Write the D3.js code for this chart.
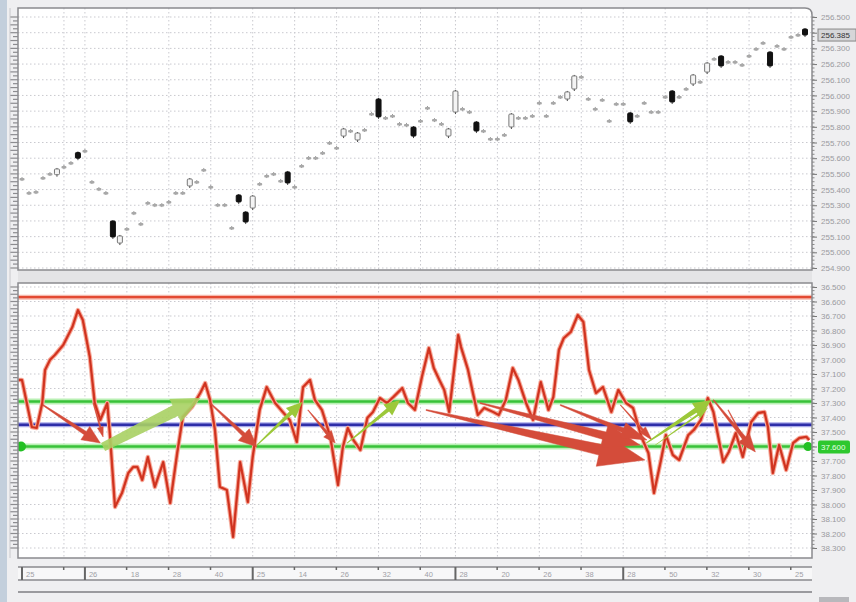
<!DOCTYPE html>
<html><head><meta charset="utf-8">
<script src="https://cdn.jsdelivr.net/npm/d3@7"></script>
<style>html,body{margin:0;padding:0;background:#efeff1;} svg{display:block}</style>
</head><body>
<svg id="c" width="856" height="602"></svg>
<script>
// ---------------- DATA ----------------
const opens = [255.467,255.378,255.384,255.474,255.499,255.495,255.544,255.569,255.630,255.646,
255.448,255.403,255.378,255.193,255.059,255.148,255.250,255.180,255.314,255.301,
255.301,255.321,255.378,255.378,255.423,255.448,255.525,255.416,255.301,255.301,
255.155,255.359,255.250,255.282,255.435,255.486,255.499,255.455,255.506,255.416,
255.550,255.601,255.601,255.633,255.697,255.665,255.741,255.773,255.716,255.780,
255.882,255.971,255.856,255.869,255.818,255.812,255.792,255.837,255.920,255.843,
255.818,255.741,255.894,255.914,255.894,255.824,255.773,255.722,255.722,255.748,
255.799,255.856,255.856,255.869,255.952,255.869,255.952,255.990,255.977,256.041,
256.118,255.977,255.914,255.971,255.837,255.945,255.945,255.882,255.869,255.952,
255.894,255.894,255.990,256.022,255.990,256.041,256.073,256.086,256.149,256.232,
256.245,256.213,256.213,256.194,256.251,256.296,256.334,256.270,256.315,256.296,
256.372,256.385,256.417];
const closes = [255.467,255.378,255.384,255.474,255.499,255.525,255.544,255.569,255.600,255.646,
255.448,255.403,255.378,255.098,255.098,255.148,255.250,255.180,255.314,255.301,
255.301,255.321,255.378,255.378,255.461,255.448,255.525,255.416,255.301,255.301,
255.155,255.321,255.193,255.352,255.435,255.486,255.499,255.455,255.442,255.416,
255.550,255.601,255.601,255.633,255.697,255.665,255.780,255.773,255.754,255.780,
255.882,255.863,255.856,255.869,255.818,255.812,255.741,255.837,255.920,255.843,
255.818,255.780,256.022,255.914,255.894,255.773,255.773,255.722,255.722,255.748,
255.875,255.856,255.856,255.869,255.952,255.869,255.952,255.990,256.016,256.118,
256.118,255.977,255.914,255.971,255.837,255.945,255.945,255.831,255.869,255.952,
255.894,255.894,255.990,255.958,255.990,256.041,256.124,256.086,256.200,256.232,
256.188,256.213,256.213,256.194,256.251,256.296,256.334,256.188,256.315,256.296,
256.372,256.385,256.385];
const priceTicks = [254.9,255.0,255.1,255.2,255.3,255.4,255.5,255.6,255.7,255.8,255.9,256.0,256.1,256.2,256.3,256.4,256.5];

const indIndex = [-0.5,0,1.4,2.1,2.9,3.3,4.0,4.7,5.9,7.2,8.0,8.7,9.7,10.4,11.2,12.2,12.6,13.3,14.3,15.2,
15.9,16.5,17.2,18.0,19.0,20.2,21.2,22.2,23.0,24.3,25.5,26.2,26.9,27.6,28.3,29.3,30.2,31.2,32.3,33.0,
34.0,35.0,36.2,37.3,38.3,39.3,40.2,41.2,41.9,42.9,44.1,45.2,45.9,46.6,47.4,48.4,49.4,50.2,51.2,52.2,
53.1,54.4,55.2,56.2,57.2,58.2,58.9,59.7,60.4,61.1,62.4,62.8,63.8,64.5,65.2,66.1,67.4,68.2,69.2,70.2,
71.0,72.1,73.1,74.2,75.3,76.0,76.8,77.5,78.5,79.5,80.3,81.1,82.1,83.1,84.3,85.3,86.4,87.4,88.6,89.6,
90.4,91.4,92.1,93.1,94.0,95.3,96.1,97.1,98.1,98.9,99.6,100.3,101.1,102.1,103.1,104.3,105.3,106.2,106.7,107.4,
108.3,109.3,110.3,111.2,112.2,112.6];
const indValue = [37.141,37.141,37.466,37.472,37.300,37.072,37.003,36.969,36.900,36.776,36.659,36.728,36.983,37.300,37.417,37.300,37.534,38.017,37.921,37.783,
37.741,37.741,37.831,37.672,37.879,37.707,37.990,37.645,37.397,37.328,37.231,37.162,37.279,37.486,37.879,37.900,38.224,37.707,37.983,37.672,
37.348,37.190,37.300,37.362,37.417,37.569,37.190,37.141,37.279,37.348,37.534,37.866,37.603,37.472,37.555,37.624,37.403,37.362,37.266,37.300,
37.259,37.197,37.300,37.348,37.121,36.921,37.059,37.141,37.210,37.362,36.831,36.914,37.072,37.231,37.383,37.334,37.362,37.383,37.279,37.059,
37.141,37.300,37.417,37.155,37.348,37.259,36.934,36.852,36.810,36.693,36.741,37.072,37.231,37.190,37.362,37.210,37.300,37.334,37.534,37.645,
37.921,37.693,37.521,37.659,37.693,37.521,37.486,37.417,37.266,37.362,37.534,37.707,37.638,37.507,37.672,37.431,37.369,37.362,37.466,37.783,
37.590,37.762,37.576,37.541,37.534,37.555];
const indTicks = [36.5,36.6,36.7,36.8,36.9,37.0,37.1,37.2,37.3,37.4,37.5,37.6,37.7,37.8,37.9,38.0,38.1,38.2,38.3];
const levelRed = 36.57, levelGreenHi = 37.29, levelBlue = 37.45, levelGreenLo = 37.60;

const timeTickIndex = [0,6,9,15,21,27,33,39,45,51,57,62,68,74,80,86,92,98,104,110];
const timeTickLabels = ["25","","26","18","28","40","25","14","26","32","40","28","20","26","38","28","50","32","30","25"];
const timeTickMajor = [1,0,1,0,0,0,1,0,0,0,0,1,0,0,0,1,0,0,0,0];

// annotation arrows: [fromIndex, fromValue, toIndex, toValue]
const redArrows = [[3.0,37.314,11.2,37.576],[10.2,37.300,11.6,37.534],[26.9,37.300,33.6,37.603],
[40.9,37.348,44.8,37.576],[57.8,37.348,89.1,37.693],[65.5,37.300,88.4,37.590],[77.0,37.314,89.4,37.555],
[85.6,37.314,90.1,37.555],[98.9,37.279,104.9,37.638],[101.0,37.348,103.9,37.610]];
const greenArrows = [[11.6,37.603,25.5,37.266],[33.6,37.590,40.1,37.293],[46.5,37.576,54.1,37.279],
[89.3,37.576,98.6,37.279],[90.6,37.590,98.1,37.334]];

// ---------------- DRAW ----------------
const svg = d3.select("#c");
const L = 18, R = 812, T1 = 8, B1 = 270, T2 = 283, B2 = 558;
const x = d3.scaleLinear().domain([0,112]).range([22,805]);
const yTop = d3.scaleLinear().domain([254.9,256.5]).range([268,17]);
const yBot = d3.scaleLinear().domain([36.5,38.3]).range([287,548]);
const FONT = "Liberation Sans, Arial, sans-serif";

// window chrome
svg.append("rect").attr("x",0).attr("y",0).attr("width",856).attr("height",602).attr("fill","#efeff1");
svg.append("rect").attr("x",0).attr("y",0).attr("width",7).attr("height",602).attr("fill","#c3cfdc");
svg.append("rect").attr("x",L).attr("y",B1).attr("width",R-L).attr("height",T2-B1).attr("fill","#e4e4e6");

const defs = svg.append("defs");
defs.append("clipPath").attr("id","cp1").append("rect").attr("x",L).attr("y",T1).attr("width",R-L).attr("height",B1-T1);
defs.append("clipPath").attr("id","cp2").append("rect").attr("x",L).attr("y",T2).attr("width",R-L).attr("height",B2-T2);

// panels
svg.append("path").attr("d",`M${L},${T1} H${R-7} Q${R},${T1} ${R},${T1+7} V${B1} H${L} Z`).attr("fill","#fff");
svg.append("rect").attr("x",L).attr("y",T2).attr("width",R-L).attr("height",B2-T2).attr("fill","#fff");

// gridlines
const g1 = svg.append("g").attr("clip-path","url(#cp1)");
const g2 = svg.append("g").attr("clip-path","url(#cp2)");
[[g1,yTop,priceTicks,T1,B1],[g2,yBot,indTicks,T2,B2]].forEach(([g,ys,ticks,t,b])=>{
  g.selectAll(".hg").data(ticks).enter().append("line").attr("x1",L).attr("x2",R)
   .attr("y1",d=>ys(d)).attr("y2",d=>ys(d)).attr("stroke","#c9c9cf").attr("stroke-width",1).attr("stroke-dasharray","1.5,2.5");
  g.selectAll(".vg").data(timeTickIndex.slice(1)).enter().append("line").attr("y1",t).attr("y2",b)
   .attr("x1",d=>x(d)).attr("x2",d=>x(d)).attr("stroke","#c9c9cf").attr("stroke-width",1).attr("stroke-dasharray","1.5,2.5");
});

// candles
const candles = g1.selectAll(".cd").data(closes.map((c,i)=>({i,o:opens[i],c}))).enter().append("g");
candles.append("line").attr("x1",d=>x(d.i)).attr("x2",d=>x(d.i))
  .attr("y1",d=>yTop(Math.max(d.o,d.c))-2).attr("y2",d=>yTop(Math.min(d.o,d.c))+2)
  .attr("stroke",d=>Math.abs(d.o-d.c)<0.001?"#9a9a9a":"#444").attr("stroke-width",1);
candles.append("rect").attr("x",d=>x(d.i)-2.5).attr("width",5)
  .attr("y",d=>Math.min(yTop(d.o),yTop(d.c))-1)
  .attr("height",d=>Math.max(2.5,Math.abs(yTop(d.o)-yTop(d.c))+1))
  .attr("rx",1)
  .attr("fill",d=>Math.abs(d.o-d.c)<0.001?"#a8a8a8":(d.c<d.o?"#111":"#f4f4f4"))
  .attr("stroke",d=>Math.abs(d.o-d.c)<0.001?"none":(d.c<d.o?"#111":"#777"))
  .attr("stroke-width",1);

// indicator levels
function level(v,halo,haloW,col,w){
  g2.append("line").attr("x1",L).attr("x2",R).attr("y1",yBot(v)).attr("y2",yBot(v)).attr("stroke",halo).attr("stroke-width",haloW);
  g2.append("line").attr("x1",L).attr("x2",R).attr("y1",yBot(v)).attr("y2",yBot(v)).attr("stroke",col).attr("stroke-width",w);
}
level(levelRed,"#f6b9ad",5,"#e34a33",2.2);
level(levelGreenHi,"#b9f0b4",6,"#38c238",2.6);
level(levelGreenLo,"#b9f0b4",6,"#38c238",2.6);
level(levelBlue,"#a9a9e8",5,"#2e2ea8",2.6);

// indicator line
const pts = indIndex.map((d,i)=>({i:d,v:indValue[i]}));
const ln = d3.line().x(d=>x(d.i)).y(d=>yBot(d.v));
g2.append("path").attr("d",ln(pts)).attr("fill","none").attr("stroke","#f4b0a2").attr("stroke-width",4.5).attr("stroke-linejoin","round");
g2.append("path").attr("d",ln(pts)).attr("fill","none").attr("stroke","#e03a24").attr("stroke-width",2.4).attr("stroke-linejoin","round");
g2.append("path").attr("d",ln(pts)).attr("fill","none").attr("stroke","#9c2a1c").attr("stroke-width",0.7).attr("stroke-linejoin","round").attr("opacity",0.6);

// green markers
g2.append("circle").attr("cx",L+3).attr("cy",yBot(levelGreenLo)).attr("r",5).attr("fill","#22c022");
g2.append("circle").attr("cx",R-4).attr("cy",yBot(levelGreenLo)).attr("r",4.5).attr("fill","#22c022");

// arrows
function arrowPts(x0,y0,x1,y1,tw,nw,hw,hl){
  const dx=x1-x0, dy=y1-y0, len=Math.hypot(dx,dy), ux=dx/len, uy=dy/len, nx=-uy, ny=ux;
  const bx=x1-ux*hl, by=y1-uy*hl;
  return [[x0+nx*tw/2,y0+ny*tw/2],[bx+nx*nw/2,by+ny*nw/2],[bx+nx*hw/2,by+ny*hw/2],[x1,y1],
          [bx-nx*hw/2,by-ny*hw/2],[bx-nx*nw/2,by-ny*nw/2],[x0-nx*tw/2,y0-ny*tw/2]];
}
const redSizes = [[1,4,16,18],[0.5,1.5,6,10],[1,4,16,18],[0.5,3,10,12],[1,11,34,46],[1,8,24,36],[1,5,16,26],[0.5,2,8,14],[1,4,14,18],[0.5,2,7,10]];
const greenSizes = [[9,12,26,28],[1,4,14,16],[1,4,14,16],[1,5,16,18],[0.5,2,8,12]];
const ag = svg.append("g").attr("clip-path","url(#cp2)");
redArrows.forEach((a,k)=>{
  const s=redSizes[k];
  ag.append("polygon").attr("points",arrowPts(x(a[0]),yBot(a[1]),x(a[2]),yBot(a[3]),s[0],s[1],s[2],s[3]).join(" "))
    .attr("fill","#d44c3a").attr("stroke","#d44c3a").attr("stroke-width",0.5).attr("stroke-linejoin","round");
});
greenArrows.forEach((a,k)=>{
  const s=greenSizes[k];
  ag.append("polygon").attr("points",arrowPts(x(a[0]),yBot(a[1]),x(a[2]),yBot(a[3]),s[0],s[1],s[2],s[3]).join(" "))
    .attr("fill",k===0?"#a9d063":"#9cc83a").attr("opacity",k===0?0.9:1).attr("stroke-linejoin","round");
});

// panel borders
svg.append("path").attr("d",`M${L},${T1} H${R-7} Q${R},${T1} ${R},${T1+7} V${B1} H${L} Z`).attr("fill","none").attr("stroke","#8a8a8e").attr("stroke-width",1.5);
svg.append("rect").attr("x",L).attr("y",T2).attr("width",R-L).attr("height",B2-T2).attr("fill","none").attr("stroke","#8a8a8e").attr("stroke-width",1.5);

// right axes (labels hidden where a highlighted value box sits)
const fmt = d3.format(".3f");
const lastC = closes[closes.length-1];
const ax1 = svg.append("g").attr("transform",`translate(${R},0)`).call(d3.axisRight(yTop).tickValues(priceTicks).tickFormat(fmt).tickSize(5).tickPadding(4));
const ax2 = svg.append("g").attr("transform",`translate(${R},0)`).call(d3.axisRight(yBot).tickValues(indTicks).tickFormat(fmt).tickSize(5).tickPadding(4));
ax1.selectAll(".tick text").filter(d=>Math.abs(yTop(d)-yTop(lastC))<11).remove();
ax2.selectAll(".tick text").filter(d=>Math.abs(yBot(d)-yBot(levelGreenLo))<11).remove();
[ax1,ax2].forEach(a=>{
  a.select(".domain").remove();
  a.selectAll("line").attr("stroke","#777");
  a.selectAll("text").attr("fill","#9a9aa0").attr("font-size",8).attr("font-family",FONT);
});
// minor ruler ticks (right & left)
const minorTop = d3.range(254.9,256.5001,0.025), minorBot = d3.range(36.5,38.3001,0.025);
[[yTop,minorTop],[yBot,minorBot]].forEach(([ys,arr])=>{
  svg.append("g").selectAll("line").data(arr).enter().append("line")
    .attr("x1",R).attr("x2",R+2.5).attr("y1",d=>ys(d)).attr("y2",d=>ys(d)).attr("stroke","#888");
  svg.append("g").selectAll("line").data(arr).enter().append("line")
    .attr("x1",(d,i)=>i%2?L-5:L-8).attr("x2",L).attr("y1",d=>ys(d)).attr("y2",d=>ys(d)).attr("stroke","#8c8c90").attr("stroke-width",1.2);
});
svg.append("line").attr("x1",L-8).attr("x2",L-8).attr("y1",T1).attr("y2",B2).attr("stroke","#c8c8cc");

// current price box
svg.append("rect").attr("x",R+6).attr("y",yTop(lastC)-6).attr("width",38).attr("height",12).attr("fill","#d6d6d8").attr("stroke","#888");
svg.append("text").attr("x",R+9).attr("y",yTop(lastC)+3).text(fmt(lastC)).attr("font-size",8).attr("fill","#333").attr("font-family",FONT);
// green level box
svg.append("rect").attr("x",R+6).attr("y",yBot(levelGreenLo)-6).attr("width",32).attr("height",13).attr("rx",2).attr("fill","#2ec82e");
svg.append("text").attr("x",R+9).attr("y",yBot(levelGreenLo)+3).text(fmt(levelGreenLo)).attr("font-size",8).attr("fill","#e8ffe8").attr("font-family",FONT);

// time axis
const ty0 = 567, ty1 = 580;
svg.append("rect").attr("x",L).attr("y",ty0).attr("width",R-L).attr("height",ty1-ty0).attr("fill","#f7f7f8");
svg.append("line").attr("x1",L).attr("x2",R).attr("y1",ty0).attr("y2",ty0).attr("stroke","#8a8a8e").attr("stroke-width",1.5);
svg.append("line").attr("x1",L).attr("x2",R).attr("y1",ty1).attr("y2",ty1).attr("stroke","#8a8a8e").attr("stroke-width",1.5);
svg.append("line").attr("x1",L).attr("x2",R).attr("y1",592).attr("y2",592).attr("stroke","#9a9a9e").attr("stroke-width",2);
const tt = svg.append("g").selectAll("g").data(timeTickIndex).enter().append("g").attr("transform",d=>`translate(${x(d)},0)`);
tt.append("rect").attr("x",-1).attr("y",ty0).attr("width",(d,i)=>timeTickMajor[i]?2:1.5).attr("height",(d,i)=>timeTickMajor[i]?ty1-ty0:3).attr("fill","#666");
tt.append("text").attr("x",4).attr("y",577).text((d,i)=>timeTickLabels[i]).attr("font-size",7.5).attr("fill","#a0a0a6").attr("font-family",FONT);
svg.append("rect").attr("x",819).attr("y",597).attr("width",30).attr("height",5).attr("fill","#b8b8bc");
</script>
</body></html>
